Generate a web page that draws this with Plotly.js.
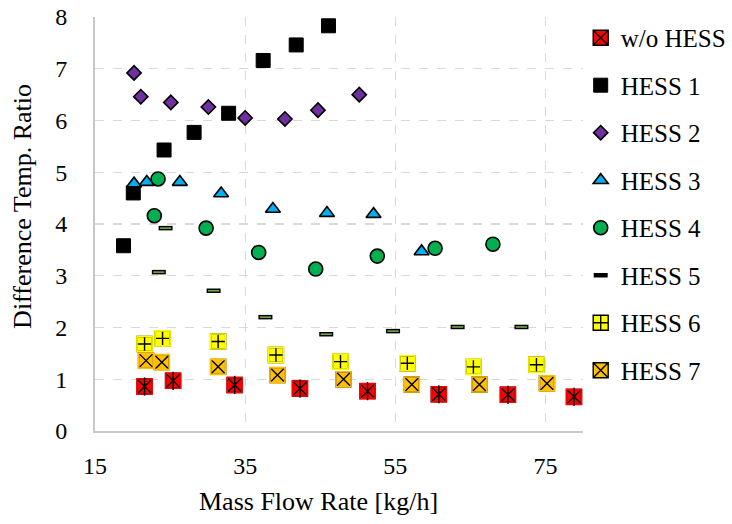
<!DOCTYPE html>
<html>
<head>
<meta charset="utf-8">
<script src="https://cdn.plot.ly/plotly-3.0.1.min.js"></script>
<style>html,body{margin:0;padding:0;background:#fff;}#chart{width:732px;height:524px;}
#chart text{font-family:"Liberation Serif","Times New Roman",serif !important;}</style>
</head>
<body>
<div id="chart"></div>
<script>
// ---- data ----
var seriesNames = ["w/o HESS", "HESS 1", "HESS 2", "HESS 3", "HESS 4", "HESS 5", "HESS 6", "HESS 7"];

var woX = [21.6, 25.4, 33.6, 42.3, 51.3, 60.8, 70.0, 78.8];
var woY = [0.86, 0.97, 0.89, 0.82, 0.77, 0.71, 0.70, 0.66];

var h1X = [18.8, 20.1, 24.2, 28.2, 32.8, 37.4, 41.8, 46.1];
var h1Y = [3.58, 4.60, 5.43, 5.77, 6.14, 7.16, 7.46, 7.83];

var h2X = [20.2, 21.1, 25.1, 30.1, 35.0, 40.3, 44.7, 50.2];
var h2Y = [6.92, 6.46, 6.35, 6.26, 6.05, 6.03, 6.20, 6.50];

var h3X = [20.2, 21.9, 26.3, 31.8, 38.7, 45.9, 52.1, 58.5];
var h3Y = [4.78, 4.81, 4.81, 4.59, 4.29, 4.21, 4.19, 3.47];

var h4X = [22.9, 23.4, 29.8, 36.8, 44.4, 52.6, 60.3, 68.0];
var h4Y = [4.16, 4.87, 3.92, 3.45, 3.13, 3.38, 3.53, 3.61];

var h5X = [23.5, 24.4, 30.8, 37.7, 45.8, 54.7, 63.3, 71.8];
var h5Y = [3.07, 3.92, 2.71, 2.20, 1.87, 1.93, 2.01, 2.01];

var h6X = [21.6, 24.0, 31.4, 39.1, 47.7, 56.6, 65.4, 73.8];
var h6Y = [1.68, 1.79, 1.73, 1.47, 1.34, 1.31, 1.24, 1.28];

var h7X = [21.8, 23.9, 31.4, 39.3, 48.1, 57.2, 66.2, 75.2];
var h7Y = [1.36, 1.33, 1.24, 1.08, 1.00, 0.90, 0.90, 0.92];

var xTickVals = [15, 35, 55, 75];
var xTitle = "Mass Flow Rate [kg/h]";
var yTitle = "Difference Temp. Ratio";

// ---- styling ----
var FONT = 'Liberation Serif, Times New Roman, serif';
function pt(name, grp, x, y, marker, show) {
  return {type: 'scatter', mode: 'markers', name: name, legendgroup: grp,
          showlegend: show, x: x, y: y, marker: marker, hoverinfo: 'skip', cliponaxis: false};
}

var traces = [
  pt(seriesNames[0], 'g0', woX, woY, {symbol: 'square-x', size: 15, color: '#FF0000', line: {color: '#000', width: 1.4}}, true),
  pt(seriesNames[0], 'g0', woX, woY, {symbol: 'square-open', size: 15, color: '#FF0000', line: {color: '#FF0000', width: 1.6}}, false),
  pt(seriesNames[0], 'g0', woX, woY, {symbol: 'line-ns', size: 13, color: '#000', line: {color: '#000', width: 1.4}}, false),
  pt(seriesNames[1], 'g1', h1X, h1Y, {symbol: 'square', size: 14, color: '#000000', line: {color: '#000', width: 1}}, true),
  pt(seriesNames[2], 'g2', h2X, h2Y, {symbol: 'diamond', size: 11, color: '#7030A0', line: {color: '#000', width: 1.6}}, true),
  pt(seriesNames[3], 'g3', h3X, h3Y, {symbol: 'triangle-up', size: 13, color: '#00B0F0', line: {color: '#000', width: 1.6}}, true),
  pt(seriesNames[4], 'g4', h4X, h4Y, {symbol: 'circle', size: 14, color: '#00B050', line: {color: '#000', width: 1.6}}, true),
  pt(seriesNames[5], 'g5', h5X, h5Y, {symbol: 'line-ew', size: 10, color: '#000', line: {color: '#000', width: 4.5}}, true),
  pt(seriesNames[5], 'g5', h5X, h5Y, {symbol: 'line-ew', size: 8, color: '#70AD47', line: {color: '#70AD47', width: 1.6}}, false),
  pt(seriesNames[6], 'g6', h6X, h6Y, {symbol: 'square-cross', size: 15, color: '#FFFF00', line: {color: '#000', width: 1.4}}, true),
  pt(seriesNames[6], 'g6', h6X, h6Y, {symbol: 'square-open', size: 15, color: '#FFFF00', line: {color: '#FFFF00', width: 1.6}}, false),
  pt(seriesNames[7], 'g7', h7X, h7Y, {symbol: 'square-x', size: 15, color: '#FFC000', line: {color: '#000', width: 1.4}}, true),
  pt(seriesNames[7], 'g7', h7X, h7Y, {symbol: 'square-open', size: 15, color: '#FFC000', line: {color: '#FFC000', width: 1.6}}, false)
];

var L = 95, R = 583.3, T = 17.3, B = 431, W = 732, H = 524;
var pw = R - L, ph = B - T;

var layout = {
  width: W, height: H,
  paper_bgcolor: '#fff', plot_bgcolor: '#fff',
  margin: {l: L, r: W - R, t: T, b: H - B, pad: 0, autoexpand: false},
  font: {family: FONT, color: '#000', size: 25},
  showlegend: true,
  xaxis: {
    range: [15, 80], tickvals: xTickVals, ticktext: xTickVals.map(String),
    showgrid: true, gridcolor: '#D9D9D9', griddash: 'dash', gridwidth: 1.3,
    showline: true, linecolor: '#C8C8C8', linewidth: 2,
    zeroline: false, ticks: '', ticklabelstandoff: 12,
    tickfont: {family: FONT, size: 24, color: '#000'}
  },
  yaxis: {
    range: [0, 8], dtick: 1,
    showgrid: true, gridcolor: '#D9D9D9', griddash: 'dash', gridwidth: 1.3,
    showline: true, linecolor: '#C8C8C8', linewidth: 2,
    zeroline: false, ticks: '', ticklabelstandoff: 21,
    tickfont: {family: FONT, size: 24, color: '#000'}
  },
  legend: {
    x: (581 - L) / pw, xanchor: 'left', y: 1.005, yanchor: 'top',
    font: {family: FONT, size: 25, color: '#000'},
    bgcolor: 'rgba(0,0,0,0)', borderwidth: 0, tracegroupgap: 12,
    itemwidth: 30, traceorder: 'grouped', maxheight: 520
  },
  annotations: [
    {text: xTitle, xref: 'paper', yref: 'paper', x: (319 - L) / pw, y: (B - 501) / ph,
     xanchor: 'center', yanchor: 'middle', showarrow: false, font: {family: FONT, size: 26, color: '#000'}},
    {text: yTitle, xref: 'paper', yref: 'paper', x: (23 - L) / pw, y: (B - 207) / ph, textangle: -90,
     xanchor: 'center', yanchor: 'middle', showarrow: false, font: {family: FONT, size: 26, color: '#000'}}
  ]
};

var cfg = {displayModeBar: false, staticPlot: true};
Plotly.newPlot('chart', traces, layout, cfg);
if (document.fonts && document.fonts.load) {
  Promise.all([document.fonts.load('24px "Liberation Serif"'), document.fonts.load('26px "Liberation Serif"')])
    .then(function () { return Plotly.redraw('chart'); })
    .catch(function () {});
}
</script>
</body>
</html>
